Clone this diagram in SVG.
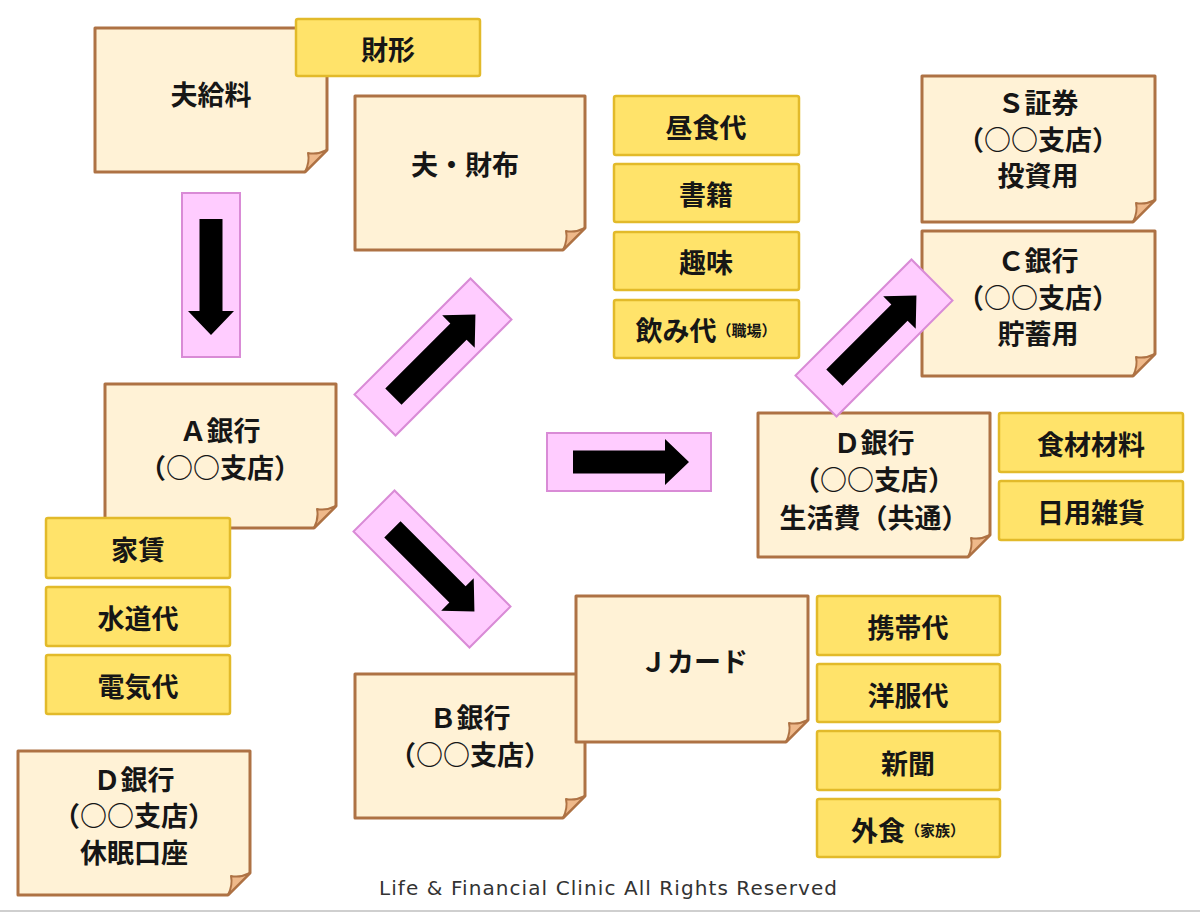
<svg xmlns="http://www.w3.org/2000/svg" xmlns:xlink="http://www.w3.org/1999/xlink" width="1200" height="914" viewBox="0 0 1200 914">
<style>
.card{fill:#FFF2D6;stroke:#AE7244;stroke-width:3;stroke-linejoin:round}
.flap{fill:#EFB98A;stroke:#AE7244;stroke-width:2;stroke-linejoin:round}
.tag{fill:#FFE36A;stroke:#E2BA2A;stroke-width:2.5}
.t{font-family:"Noto Sans CJK JP","Noto Sans CJK SC",sans-serif;font-weight:bold;font-size:27px;fill:#161616;text-anchor:middle;dominant-baseline:central}
.s{font-size:15px}
.pink{fill:#FFCCFF;stroke:#D98BD6;stroke-width:2}
.blk{fill:#000}
.foot{font-family:"DejaVu Sans",sans-serif;font-size:20px;fill:#333;text-anchor:middle}
</style>
<defs>
<path id="flap" class="flap" d="M -22,0 L 0,-22 Q -10,-17 -19,-19 Q -17,-10 -22,0 Z"/>
<g id="arr">
<rect class="pink" x="-82" y="-29" width="164" height="58"/>
<path class="blk" d="M -56,-11.5 H 36 V -23 L 60,0 L 36,23 V 11.5 H -56 Z"/>
</g>
</defs>
<rect x="0" y="0" width="1200" height="914" fill="#fff"/>
<line x1="0" y1="911" x2="1200" y2="911" stroke="#cfcfcf" stroke-width="2"/>

<g id="salary">
<path class="card" d="M95,28 H327 V150 L305,172 H95 Z"/>
<use xlink:href="#flap" x="327" y="172"/>
<text class="t" x="211" y="93">夫給料</text>
</g>
<g id="zaikei">
<rect class="tag" x="296" y="19" width="184" height="57" rx="2"/>
<text class="t" x="388" y="48">財形</text>
</g>
<g id="wallet">
<path class="card" d="M355,96 H585 V228 L563,250 H355 Z"/>
<use xlink:href="#flap" x="585" y="250"/>
<text class="t" x="465" y="163">夫・財布</text>
</g>
<g id="lunch">
<rect class="tag" x="614" y="96" width="185" height="59" rx="2"/>
<text class="t" x="706" y="126">昼食代</text>
</g>
<g id="books">
<rect class="tag" x="614" y="164" width="185" height="58" rx="2"/>
<text class="t" x="706" y="193">書籍</text>
</g>
<g id="hobby">
<rect class="tag" x="614" y="232" width="185" height="58" rx="2"/>
<text class="t" x="706" y="261">趣味</text>
</g>
<g id="drinks">
<rect class="tag" x="614" y="300" width="185" height="58" rx="2"/>
<text class="t" x="706" y="329">飲み代<tspan class="s">（職場）</tspan></text>
</g>
<g id="ssec">
<path class="card" d="M922,76 H1155 V200 L1133,222 H922 Z"/>
<use xlink:href="#flap" x="1155" y="222"/>
<text class="t" x="1038" y="101">Ｓ証券</text>
<text class="t" x="1038" y="138">（○○支店）</text>
<text class="t" x="1038" y="174">投資用</text>
</g>
<g id="cbank">
<path class="card" d="M922,231 H1155 V354 L1133,376 H922 Z"/>
<use xlink:href="#flap" x="1155" y="376"/>
<text class="t" x="1038" y="259">Ｃ銀行</text>
<text class="t" x="1038" y="296">（○○支店）</text>
<text class="t" x="1038" y="332">貯蓄用</text>
</g>
<g id="dbank-living">
<path class="card" d="M758,413 H990 V535 L968,557 H758 Z"/>
<use xlink:href="#flap" x="990" y="557"/>
<text class="t" x="874" y="441">Ｄ銀行</text>
<text class="t" x="874" y="478">（○○支店）</text>
<text class="t" x="874" y="516">生活費（共通）</text>
</g>
<g id="food">
<rect class="tag" x="999" y="413" width="184" height="59" rx="2"/>
<text class="t" x="1091" y="443">食材材料</text>
</g>
<g id="daily">
<rect class="tag" x="999" y="481" width="184" height="59" rx="2"/>
<text class="t" x="1091" y="511">日用雑貨</text>
</g>
<g id="abank">
<path class="card" d="M105,384 H336 V506 L314,528 H105 Z"/>
<use xlink:href="#flap" x="336" y="528"/>
<text class="t" x="220" y="429">Ａ銀行</text>
<text class="t" x="220" y="466">（○○支店）</text>
</g>
<g id="rent">
<rect class="tag" x="46" y="518" width="184" height="60" rx="2"/>
<text class="t" x="138" y="548">家賃</text>
</g>
<g id="water">
<rect class="tag" x="46" y="587" width="184" height="59" rx="2"/>
<text class="t" x="138" y="617">水道代</text>
</g>
<g id="electric">
<rect class="tag" x="46" y="655" width="184" height="59" rx="2"/>
<text class="t" x="138" y="685">電気代</text>
</g>
<g id="dbank-dormant">
<path class="card" d="M18,751 H250 V873 L228,895 H18 Z"/>
<use xlink:href="#flap" x="250" y="895"/>
<text class="t" x="134" y="778">Ｄ銀行</text>
<text class="t" x="134" y="814">（○○支店）</text>
<text class="t" x="134" y="851">休眠口座</text>
</g>
<g id="bbank">
<path class="card" d="M355,674 H585 V796 L563,818 H355 Z"/>
<use xlink:href="#flap" x="585" y="818"/>
<text class="t" x="470" y="716">Ｂ銀行</text>
<text class="t" x="470" y="753">（○○支店）</text>
</g>
<g id="jcard">
<path class="card" d="M576,596 H808 V720 L786,742 H576 Z"/>
<use xlink:href="#flap" x="808" y="742"/>
<text class="t" x="694" y="660">Ｊカード</text>
</g>
<g id="mobile">
<rect class="tag" x="817" y="596" width="183" height="59" rx="2"/>
<text class="t" x="908" y="626">携帯代</text>
</g>
<g id="clothes">
<rect class="tag" x="817" y="664" width="183" height="58" rx="2"/>
<text class="t" x="908" y="694">洋服代</text>
</g>
<g id="news">
<rect class="tag" x="817" y="731" width="183" height="59" rx="2"/>
<text class="t" x="908" y="762">新聞</text>
</g>
<g id="dining">
<rect class="tag" x="817" y="799" width="183" height="58" rx="2"/>
<text class="t" x="908" y="829">外食<tspan class="s">（家族）</tspan></text>
</g>

<g id="connectors">
<use xlink:href="#arr" transform="translate(211,275) rotate(90)"/>
<use xlink:href="#arr" transform="translate(433,357) rotate(-45)"/>
<use xlink:href="#arr" transform="translate(629,462)"/>
<use xlink:href="#arr" transform="translate(432,569) rotate(45)"/>
<use xlink:href="#arr" transform="translate(874,338) rotate(-45)"/>
</g>

<text class="foot" x="608" y="895" textLength="458">Life &amp; Financial Clinic All Rights Reserved</text>
</svg>
